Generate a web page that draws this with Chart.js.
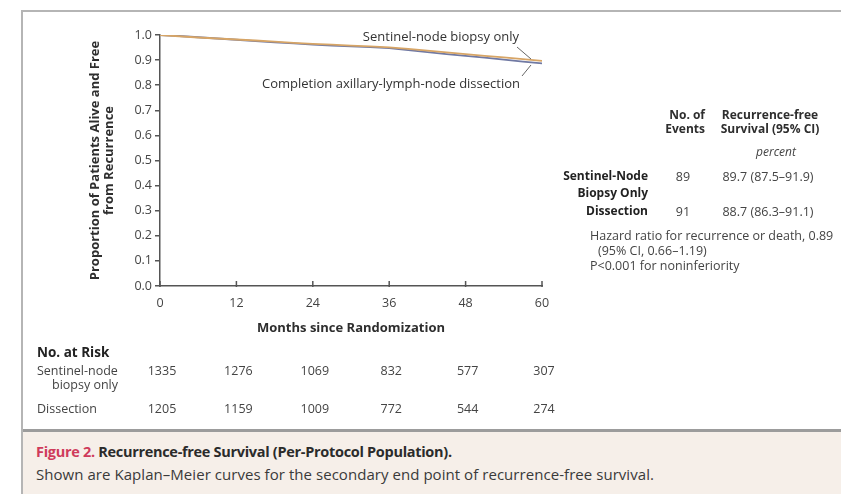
<!DOCTYPE html>
<html>
<head>
<meta charset="utf-8">
<script src="https://cdn.jsdelivr.net/npm/chart.js@4.4.1/dist/chart.umd.min.js"></script>
<style>
  html, body { margin: 0; padding: 0; background: #fff; }
  #wrap { position: relative; width: 841px; height: 494px; overflow: hidden; font-family: 'Open Sans', sans-serif; }
  #frameTop { position: absolute; left: 21px; top: 10px; right: 0; height: 2px; background: #b5b5b5; }
  #frameLeft { position: absolute; left: 21px; top: 10px; width: 2px; bottom: 0; background: #b5b5b5; }
  #caption { position: absolute; left: 23px; top: 429px; right: 0; bottom: 0; background: #f6efe9; border-top: 3px solid #9c9c9c; }
  #caption .l1 { position: absolute; left: 13px; top: 10px; font-size: 14.5px; font-weight: bold; color: #2b2b2b; white-space: nowrap; letter-spacing: -0.3px; }
  #caption .l1 span { color: #cf3b5b; }
  #caption .l2 { position: absolute; left: 13px; top: 32px; font-size: 15px; color: #3a3a3a; white-space: nowrap; letter-spacing: 0.05px; }
  canvas { position: absolute; left: 0; top: 0; }
</style>
</head>
<body>
<div id="wrap">
  <canvas id="kmChart" width="841" height="494"></canvas>
  <div id="frameTop"></div>
  <div id="frameLeft"></div>
  <div id="caption">
    <div class="l1"><span>Figure 2.</span> Recurrence-free Survival (Per-Protocol Population).</div>
    <div class="l2">Shown are Kaplan–Meier curves for the secondary end point of recurrence-free survival.</div>
  </div>
</div>
<script>
// Kaplan-Meier estimates, read every 3 months
const months = [0, 3, 6, 9, 12, 15, 18, 21, 24, 27, 30, 33, 36, 39, 42, 45, 48, 51, 54, 57, 60];
const sentinelSurvival = [1.0, 0.995, 0.990, 0.986, 0.982, 0.978, 0.974, 0.969, 0.965, 0.962, 0.958, 0.955, 0.951, 0.945, 0.938, 0.931, 0.924, 0.917, 0.911, 0.904, 0.897];
const dissectionSurvival = [1.0, 0.996, 0.991, 0.986, 0.981, 0.976, 0.971, 0.967, 0.962, 0.958, 0.955, 0.952, 0.948, 0.940, 0.932, 0.924, 0.917, 0.910, 0.902, 0.894, 0.887];

const xTicks = [0, 12, 24, 36, 48, 60];
const atRiskSentinel = [1335, 1276, 1069, 832, 577, 307];
const atRiskDissection = [1205, 1159, 1009, 772, 544, 274];

const groupNames = [["Sentinel-Node", "Biopsy Only"], ["Dissection"]];
const eventCounts = [89, 91];
const survivalPct = ["89.7 (87.5–91.9)", "88.7 (86.3–91.1)"];

const FONT = "'Open Sans', Lato, sans-serif";
const DARK = "#2e2e2e";

function toPoints(xs, ys) {
  return xs.map((x, i) => ({ x: x, y: ys[i] }));
}

function text(ctx, s, x, y, font, align, color) {
  ctx.font = font;
  ctx.textAlign = align || "left";
  ctx.textBaseline = "middle";
  ctx.fillStyle = color || DARK;
  ctx.fillText(s, x, y);
}

// inward ticks on the x axis, curve labels, event table and numbers at risk
const extras = {
  id: "extras",
  afterDraw(chart) {
    const ctx = chart.ctx;
    const xs = chart.scales.x;
    const ys = chart.scales.y;
    ctx.save();

    // x ticks point up into the plot
    ctx.strokeStyle = "#555";
    ctx.lineWidth = 1.5;
    xTicks.forEach(t => {
      const px = xs.getPixelForValue(t);
      ctx.beginPath();
      ctx.moveTo(px, ys.bottom - 5);
      ctx.lineTo(px, ys.bottom + 1);
      ctx.stroke();
    });

    // curve labels with leader lines
    const lbl = "13px " + FONT;
    text(ctx, "Sentinel-node biopsy only", 519, 37, lbl, "right", "#333");
    text(ctx, "Completion axillary-lymph-node dissection", 520, 84, lbl, "right", "#333");
    ctx.strokeStyle = "#666";
    ctx.lineWidth = 1;
    ctx.beginPath();
    ctx.moveTo(517, 47);
    ctx.lineTo(531, 59);
    ctx.moveTo(522, 76);
    ctx.lineTo(531, 65);
    ctx.stroke();

    // event table
    const b = "bold 12px " + FONT;
    const r = "12.5px " + FONT;
    text(ctx, "No. of", 705, 116, b, "right");
    text(ctx, "Events", 705, 130, b, "right");
    text(ctx, "Recurrence-free", 770, 116, b, "center");
    text(ctx, "Survival (95% CI)", 770, 130, b, "center");
    text(ctx, "percent", 776, 153, "italic 12px " + FONT, "center", "#444");
    const rowY = [177, 212];
    groupNames.forEach((lines, i) => {
      lines.forEach((ln, j) => text(ctx, ln, 648, rowY[i] + j * 17, b, "right", "#222"));
      text(ctx, String(eventCounts[i]), 683, rowY[i], r, "center", "#444");
      text(ctx, survivalPct[i], 768, rowY[i], r, "center", "#444");
    });
    text(ctx, "Hazard ratio for recurrence or death, 0.89", 590, 236, r, "left", "#444");
    text(ctx, "(95% CI, 0.66–1.19)", 598, 251, r, "left", "#444");
    text(ctx, "P<0.001 for noninferiority", 590, 266, r, "left", "#444");

    // numbers at risk
    text(ctx, "No. at Risk", 37, 353, "bold 13.5px " + FONT, "left", "#222");
    text(ctx, "Sentinel-node", 37, 371, r, "left", "#444");
    text(ctx, "biopsy only", 52, 385, r, "left", "#444");
    text(ctx, "Dissection", 37, 409, r, "left", "#444");
    xTicks.forEach((t, i) => {
      const px = xs.getPixelForValue(t) + 2;
      text(ctx, String(atRiskSentinel[i]), px, 371, r, "center", "#444");
      text(ctx, String(atRiskDissection[i]), px, 409, r, "center", "#444");
    });

    ctx.restore();
  }
};

Chart.defaults.font.family = FONT;
Chart.defaults.color = "#444";

new Chart(document.getElementById("kmChart"), {
  type: "line",
  data: {
    datasets: [
      {
        label: "Sentinel-node biopsy only",
        data: toPoints(months, sentinelSurvival),
        borderColor: "#d7a566",
        borderWidth: 1.8,
        pointRadius: 0
      },
      {
        label: "Completion axillary-lymph-node dissection",
        data: toPoints(months, dissectionSurvival),
        borderColor: "#7079a3",
        borderWidth: 1.8,
        pointRadius: 0
      }
    ]
  },
  options: {
    responsive: false,
    animation: false,
    layout: { padding: { left: 88, top: 35, right: 299, bottom: 158 } },
    plugins: { legend: { display: false }, tooltip: { enabled: false } },
    scales: {
      x: {
        type: "linear",
        min: 0,
        max: 60,
        afterFit: s => { s.height = 50; },
        afterBuildTicks: s => { s.ticks = xTicks.map(v => ({ value: v })); },
        grid: { display: false, drawTicks: false },
        border: { color: "#555", width: 1.5 },
        ticks: { padding: 10, font: { size: 12.5 }, color: "#444" },
        title: {
          display: true,
          text: "Months since Randomization",
          font: { size: 13, weight: "bold" },
          color: DARK,
          padding: 0
        }
      },
      y: {
        min: 0,
        max: 1,
        afterFit: s => { s.width = 72; },
        grid: { drawOnChartArea: false, drawTicks: true, tickLength: 5, color: "#555", lineWidth: 1.5 },
        border: { color: "#555", width: 1.5 },
        ticks: { stepSize: 0.1, padding: 3, font: { size: 12.5 }, color: "#444", callback: v => v.toFixed(1) },
        title: {
          display: true,
          text: ["Proportion of Patients Alive and Free", "from Recurrence"],
          font: { size: 13, weight: "bold", lineHeight: 1.1 },
          color: DARK,
          padding: 0
        }
      }
    }
  },
  plugins: [extras]
});
</script>
</body>
</html>
